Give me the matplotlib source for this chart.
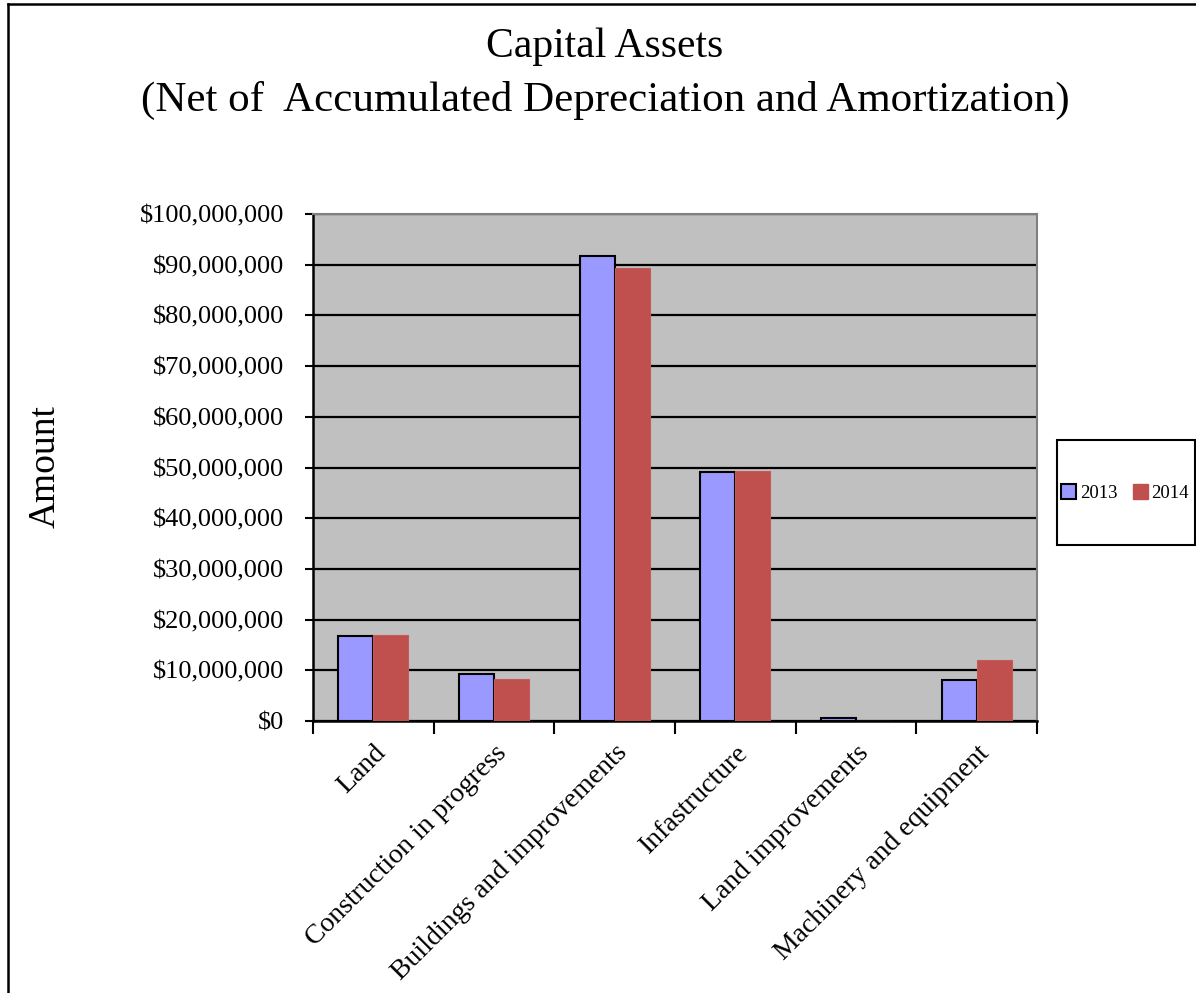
import matplotlib
matplotlib.use("Agg")
import matplotlib.pyplot as plt
import numpy as np
from matplotlib.lines import Line2D
from matplotlib.patches import Rectangle, Patch
from matplotlib.ticker import FuncFormatter, MultipleLocator

plt.rcParams['font.family'] = ['Liberation Serif', 'DejaVu Serif']

categories = ["Land", "Construction in progress", "Buildings and improvements",
              "Infastructure", "Land improvements", "Machinery and equipment"]
series_names = ["2013", "2014"]
values_2013 = [16.8e6, 9.2e6, 91.8e6, 49.2e6, 0.5e6, 8.1e6]
values_2014 = [17.0e6, 8.2e6, 89.3e6, 49.3e6, 0.0, 12.0e6]

W, H = 1196, 993
fig = plt.figure(figsize=(W / 100, H / 100), dpi=100)
fig.patch.set_facecolor('white')

ax = fig.add_axes([313 / W, 1 - 721 / H, (1037 - 313) / W, (721 - 214) / H])
ax.set_facecolor('#C0C0C0')

x = np.arange(len(categories))
bw = 0.29
ax.bar(x - bw / 2, values_2013, bw, color='#9999FF', edgecolor='black', linewidth=1.5, zorder=3)
ax.bar(x + bw / 2, values_2014, bw, color='#C0504D', edgecolor='#C55A57', linewidth=0.8, zorder=3)

ax.set_xlim(-0.5, len(categories) - 0.5)
ax.set_ylim(0, 100e6)
ax.yaxis.set_major_locator(MultipleLocator(10e6))
ax.yaxis.set_major_formatter(FuncFormatter(lambda v, p: "${:,.0f}".format(v)))
ax.grid(axis='y', color='black', linewidth=1.6, zorder=1)
ax.set_axisbelow(True)

ax.set_xticks(x)
ax.set_xticklabels(categories, rotation=45, ha='right', rotation_mode='anchor', fontsize=20)
ax.tick_params(axis='x', which='major', length=0, pad=14)
ax.set_xticks(np.arange(len(categories) + 1) - 0.5, minor=True)
ax.tick_params(axis='x', which='minor', length=9, width=1.5, direction='out', color='black')
ax.tick_params(axis='y', labelsize=19, length=6, width=1.5, direction='out', pad=15)

for s in ['left', 'bottom']:
    ax.spines[s].set_color('black')
    ax.spines[s].set_linewidth(1.8)
for s in ['top', 'right']:
    ax.spines[s].set_color('#808080')
    ax.spines[s].set_linewidth(1.5)

fig.text(605 / W, 1 - 47 / H, "Capital Assets", ha='center', va='center', fontsize=30)
fig.text(605 / W, 1 - 100 / H, "(Net of  Accumulated Depreciation and Amortization)",
         ha='center', va='center', fontsize=31)
fig.text(45 / W, 1 - 467 / H, "Amount", ha='center', va='center', rotation=90, fontsize=27)

# legend box
fig.add_artist(Rectangle((1057 / W, 1 - 545 / H), (1195 - 1057) / W, (545 - 440) / H,
                         transform=fig.transFigure, facecolor='white', edgecolor='black',
                         linewidth=1.5))
handles = [Patch(facecolor='#9999FF', edgecolor='black', linewidth=1.5),
           Patch(facecolor='#C0504D', edgecolor='#C0504D')]
fig.legend(handles, series_names, loc='center', bbox_to_anchor=(1125 / W, 1 - 493 / H),
           ncol=2, frameon=False, fontsize=13.5, handlelength=0.8, handleheight=0.8,
           handletextpad=0.2, columnspacing=0.8)

# outer border (extends past right/bottom)
fig.add_artist(Line2D([8 / W, 8 / W], [0, 1 - 4 / H], transform=fig.transFigure,
                      color='black', linewidth=1.8))
fig.add_artist(Line2D([8 / W, 1], [1 - 4 / H, 1 - 4 / H], transform=fig.transFigure,
                      color='black', linewidth=1.8))

fig.savefig("out.png", dpi=100, facecolor='white')
